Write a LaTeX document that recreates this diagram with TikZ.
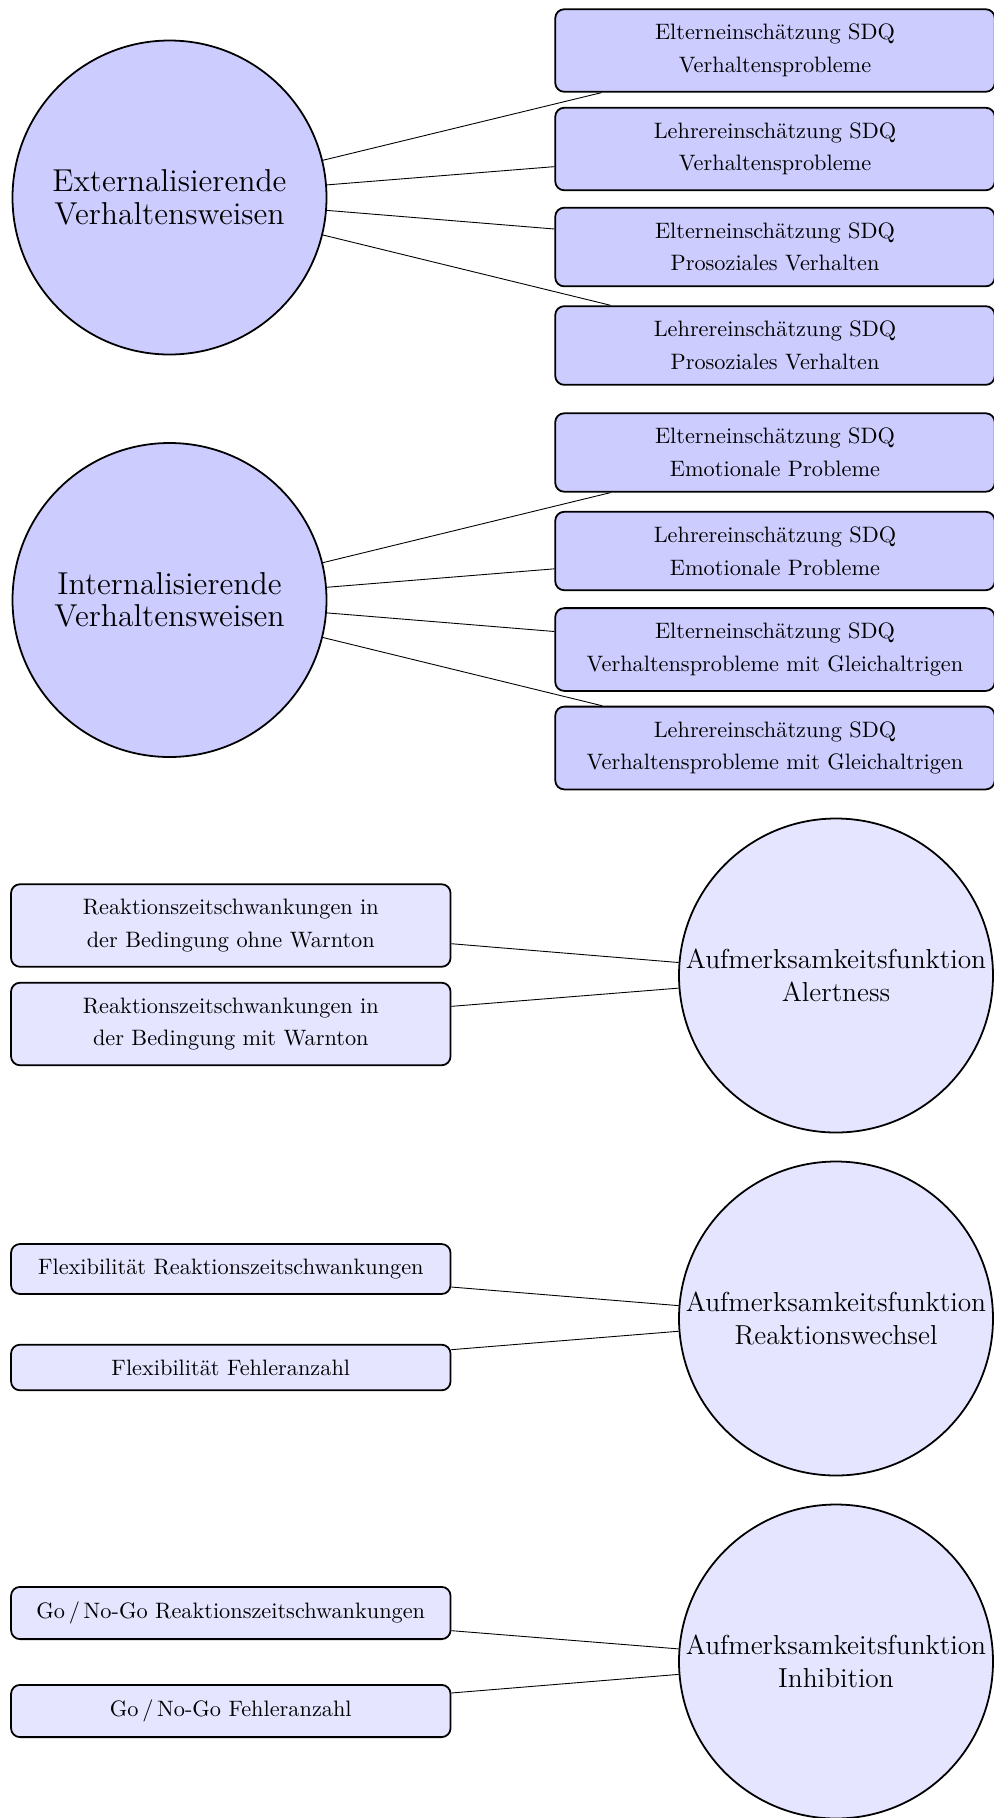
\documentclass[tikz,border=0pt]{standalone}
\newcommand{\pxu}{0.4484pt}
\tikzset{
  x=0.4484pt, y=-0.4484pt,
  bigcirc/.style={circle, draw, thick, minimum size=314*\pxu, inner sep=0pt, align=center},
  topfill/.style={fill=blue!20},
  botfill/.style={fill=blue!10},
  topcirc/.style={bigcirc, topfill, font=\fontsize{14.2}{14.6}\selectfont},
  botcirc/.style={bigcirc, botfill, font=\fontsize{12.3}{14.6}\selectfont},
  rbox/.style={rectangle, rounded corners=4pt, draw, thick, minimum width=439.5*\pxu, inner ysep=6.7pt, align=center, font=\fontsize{10}{14.6}\selectfont},
  topbox/.style={rbox, topfill},
  botbox/.style={rbox, botfill},
  link/.style={draw, thin}
}
\begin{document}
\begin{tikzpicture}
\useasboundingbox (0,0) rectangle (994,1818);
% group 1
\node[topcirc] (c1) at (169.5,197.5) {Externalisierende\\Verhaltensweisen};
\node[topbox] (b1) at (775,50.5) {Elterneinschätzung SDQ\\Verhaltensprobleme};
\node[topbox] (b2) at (775,149) {Lehrereinschätzung SDQ\\Verhaltensprobleme};
\node[topbox] (b3) at (775,247) {Elterneinschätzung SDQ\\Prosoziales Verhalten};
\node[topbox] (b4) at (775,345.5) {Lehrereinschätzung SDQ\\Prosoziales Verhalten};
\foreach \b in {b1,b2,b3,b4} \draw[link] (c1) -- (\b);
% group 2
\node[topcirc] (c2) at (169.5,600) {Internalisierende\\Verhaltensweisen};
\node[topbox] (b5) at (775,452.5) {Elterneinschätzung SDQ\\Emotionale Probleme};
\node[topbox] (b6) at (775,551) {Lehrereinschätzung SDQ\\Emotionale Probleme};
\node[topbox] (b7) at (775,649.5) {Elterneinschätzung SDQ\\Verhaltensprobleme mit Gleichaltrigen};
\node[topbox] (b8) at (775,748) {Lehrereinschätzung SDQ\\Verhaltensprobleme mit Gleichaltrigen};
\foreach \b in {b5,b6,b7,b8} \draw[link] (c2) -- (\b);
% group 3
\node[botcirc] (c3) at (836,975.5) {Aufmerksamkeitsfunktion\\Alertness};
\node[botbox] (a1) at (230.8,925.5) {Reaktionszeitschwankungen in\\der Bedingung ohne Warnton};
\node[botbox] (a2) at (230.8,1024) {Reaktionszeitschwankungen in\\der Bedingung mit Warnton};
\draw[link] (a1) -- (c3);
\draw[link] (a2) -- (c3);
% group 4
\node[botcirc] (c4) at (836,1318.5) {Aufmerksamkeitsfunktion\\Reaktionswechsel};
\node[botbox] (f1) at (230.8,1269) {Flexibilität Reaktionszeitschwankungen};
\node[botbox] (f2) at (230.8,1367.5) {Flexibilität Fehleranzahl};
\draw[link] (f1) -- (c4);
\draw[link] (f2) -- (c4);
% group 5
\node[botcirc] (c5) at (836,1661.5) {Aufmerksamkeitsfunktion\\Inhibition};
\node[botbox] (g1) at (230.8,1613) {Go\,/\,No-Go Reaktionszeitschwankungen};
\node[botbox] (g2) at (230.8,1711) {Go\,/\,No-Go Fehleranzahl};
\draw[link] (g1) -- (c5);
\draw[link] (g2) -- (c5);
\end{tikzpicture}
\end{document}
